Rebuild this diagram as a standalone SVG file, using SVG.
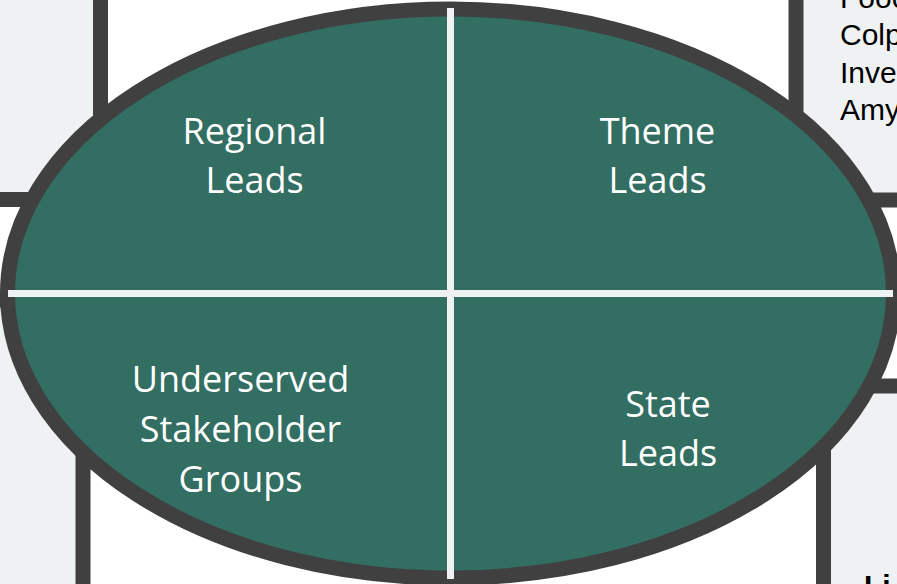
<svg xmlns="http://www.w3.org/2000/svg" width="897" height="584" viewBox="0 0 897 584">
  <style>
    .box { fill: #EFF2F3; stroke: #404040; stroke-width: 15; }
    .side { font-family: "Liberation Sans", Arial, sans-serif; font-size: 30px; fill: #000000; }
    .lbl { font-family: "Open Sans", "Noto Sans", sans-serif; font-size: 36px; fill: #FFFFFF; text-anchor: middle; }
    .div { stroke: #EFF2F3; stroke-width: 7; fill: none; }
  </style>
  <rect x="0" y="0" width="897" height="584" fill="#FFFFFF"/>
  <g id="box-top-left">
    <rect class="box" x="-60" y="-60" width="160.5" height="259.5" rx="30"/>
  </g>
  <g id="box-top-right">
    <rect class="box" x="796" y="-60" width="160" height="260" rx="30"/>
    <text class="side" x="840" y="7.5">Fooc</text>
    <text class="side" x="840" y="45">Colp</text>
    <text class="side" x="840" y="83">Inve</text>
    <text class="side" x="840" y="120">Amy</text>
  </g>
  <g id="box-bottom-left">
    <rect class="box" x="-60" y="300" width="143" height="340" rx="30"/>
  </g>
  <g id="box-bottom-right">
    <rect class="box" x="823.5" y="386" width="140" height="260" rx="40"/>
    <text class="side" x="864" y="596" font-weight="bold">Li</text>
  </g>
  <g id="ellipse">
    <ellipse cx="450.5" cy="293.5" rx="443" ry="284.5" fill="#336E62" stroke="#404040" stroke-width="15"/>
  </g>
  <g id="connectors">
    <line class="div" x1="8" y1="293.5" x2="893" y2="293.5"/>
    <line class="div" x1="450.5" y1="8" x2="450.5" y2="579"/>
  </g>
  <g id="regional-leads">
    <text class="lbl" x="254.5" y="144">Regional</text>
    <text class="lbl" x="254.5" y="193">Leads</text>
  </g>
  <g id="theme-leads">
    <text class="lbl" x="657.5" y="144">Theme</text>
    <text class="lbl" x="657.5" y="193">Leads</text>
  </g>
  <g id="underserved-stakeholder-groups">
    <text class="lbl" x="240.5" y="392">Underserved</text>
    <text class="lbl" x="240.5" y="442">Stakeholder</text>
    <text class="lbl" x="240.5" y="492">Groups</text>
  </g>
  <g id="state-leads">
    <text class="lbl" x="668" y="417">State</text>
    <text class="lbl" x="668" y="466">Leads</text>
  </g>
</svg>
